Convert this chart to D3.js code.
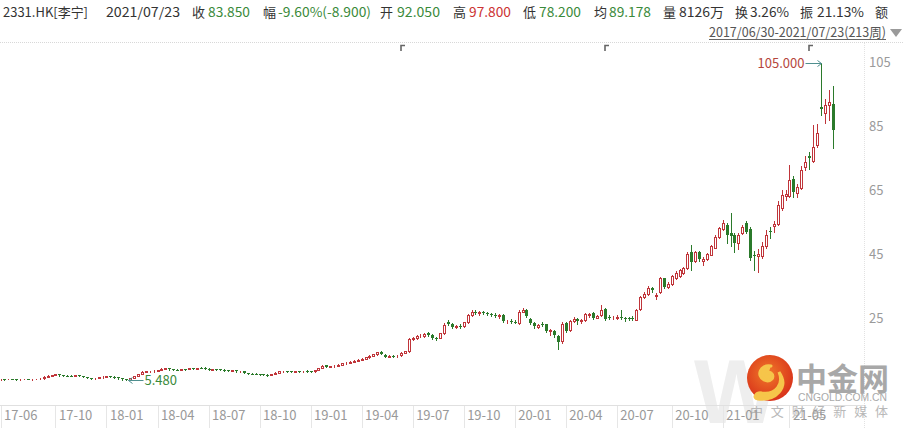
<!DOCTYPE html>
<html><head><meta charset="utf-8">
<script src="https://cdn.jsdelivr.net/npm/d3@7"></script>
<style>
body{margin:0;background:#fff;}
svg{display:block;font-family:"Noto Sans CJK SC","Noto Sans",sans-serif;}
</style>
</head><body>
<svg id="c" width="904" height="428"></svg>
<script>
// Weekly OHLC, 2017/06/30 .. 2021/07/23 (213 weeks)
const open = [5.80,5.85,5.80,5.90,5.85,5.78,5.82,5.88,5.80,5.85,5.92,6.05,6.60,6.95,7.10,7.30,7.10,6.95,6.90,6.80,
7.05,6.80,6.50,6.20,6.10,6.15,6.35,6.60,6.70,6.65,6.40,6.10,5.80,5.70,6.20,6.80,7.40,8.20,8.25,8.35,
8.50,8.70,9.15,9.30,8.90,8.80,8.75,8.95,8.95,9.30,9.05,9.35,9.30,9.10,8.85,8.95,8.90,8.80,8.75,8.50,
8.55,8.30,8.25,7.75,7.60,7.55,7.40,7.30,7.20,7.10,7.45,7.90,8.25,8.30,8.25,8.20,8.35,8.25,8.40,8.30,
8.25,8.60,9.40,10.20,9.60,9.85,10.10,10.40,10.75,11.05,11.20,11.65,11.85,12.30,12.75,13.20,13.60,14.30,13.50,12.90,
13.05,12.95,13.30,14.00,14.60,18.30,18.70,19.30,19.50,20.20,19.60,18.80,18.80,20.30,23.60,23.10,22.30,22.60,22.40,23.70,
25.90,27.00,26.60,26.80,26.50,26.30,25.90,25.60,25.90,24.00,24.20,23.80,23.50,27.00,27.50,24.80,23.40,22.30,23.00,23.00,
20.90,21.00,19.40,17.80,23.30,21.20,24.20,24.60,24.00,24.40,26.00,26.50,25.00,25.90,27.70,25.40,25.20,24.90,25.30,25.00,
24.90,25.10,24.50,27.80,31.60,32.60,34.30,32.00,33.00,37.40,34.60,35.80,37.60,38.20,39.00,40.80,45.80,42.90,45.60,43.00,
43.60,44.90,47.00,50.50,52.90,54.20,51.60,51.00,48.40,51.70,54.80,52.80,44.80,44.30,44.30,47.60,52.30,53.80,54.50,59.60,
63.20,63.30,68.60,64.30,65.80,72.40,75.80,74.20,79.30,91.30,89.40,91.90,92.05];
const high = [5.95,5.95,5.98,6.00,5.92,5.90,5.95,5.95,5.92,5.98,6.10,6.75,7.05,7.20,7.45,7.40,7.20,7.10,7.00,7.20,
7.10,6.85,6.60,6.30,6.25,6.40,6.70,6.80,6.85,6.70,6.45,6.20,5.90,6.30,6.90,7.40,8.40,8.40,8.50,8.60,
8.75,9.30,9.40,9.40,9.00,9.00,9.05,9.10,9.40,9.40,9.45,9.70,9.50,9.20,9.05,9.10,9.00,8.95,8.85,8.70,
8.60,8.50,8.30,7.85,7.75,7.70,7.50,7.45,7.35,7.50,8.00,8.35,8.45,8.45,8.40,8.45,8.50,8.50,8.55,8.45,
8.70,9.40,10.20,10.30,9.95,10.20,10.50,10.85,11.20,11.40,11.80,12.00,12.45,12.90,13.40,13.80,14.40,14.50,13.60,13.30,
13.30,13.40,14.20,14.80,18.60,19.00,19.60,19.90,20.40,20.60,19.90,19.20,20.40,23.30,24.30,23.50,22.90,23.20,23.90,26.20,
27.40,27.40,27.20,27.30,27.00,26.70,26.50,26.20,26.10,24.50,24.70,24.30,27.40,28.00,27.90,25.00,23.80,23.20,23.60,23.20,
21.60,21.30,19.80,23.60,23.80,24.40,25.30,24.90,24.80,26.60,26.70,26.80,25.90,29.00,28.00,25.80,25.70,25.80,27.50,25.40,
25.30,25.60,27.80,31.90,33.20,34.90,34.80,32.90,37.80,37.60,36.20,38.40,39.60,40.30,41.00,45.60,47.90,46.00,46.00,44.00,
45.40,48.00,50.90,53.60,55.80,54.80,57.80,51.50,51.50,54.00,55.50,53.50,46.00,46.60,48.90,52.50,53.50,55.30,61.80,65.00,
65.20,73.00,69.50,67.00,72.50,75.80,77.00,85.50,85.80,105.00,93.50,96.50,97.80];
const low = [5.70,5.72,5.75,5.78,5.72,5.70,5.75,5.76,5.72,5.78,5.85,6.00,6.50,6.80,7.00,6.95,6.85,6.75,6.70,6.75,
6.70,6.40,6.10,6.00,6.00,6.10,6.30,6.50,6.55,6.30,6.00,5.70,5.48,5.65,6.15,6.70,7.30,8.00,8.05,8.20,
8.30,8.60,9.00,8.80,8.65,8.60,8.70,8.80,8.90,9.00,9.00,9.20,9.00,8.75,8.70,8.60,8.55,8.50,8.40,8.35,
8.20,8.15,7.65,7.45,7.40,7.30,7.15,7.05,6.95,7.00,7.40,7.80,8.10,8.10,8.05,8.10,8.15,8.20,8.20,8.10,
8.20,8.55,9.30,9.50,9.50,9.75,10.00,10.30,10.60,10.90,11.10,11.40,11.75,12.20,12.60,13.00,13.50,13.60,12.70,12.70,
12.70,12.85,13.20,13.90,14.40,18.10,18.50,19.00,19.20,19.30,18.50,18.10,18.60,20.10,22.80,21.90,21.80,22.00,22.10,23.50,
25.50,26.10,26.00,26.20,25.80,25.60,25.30,25.10,23.70,23.50,23.30,23.30,23.20,26.80,25.20,23.20,22.00,21.90,22.40,20.60,
19.80,19.20,15.20,17.30,20.60,21.00,23.70,23.20,23.50,24.20,25.40,24.80,24.90,25.60,24.50,24.60,24.70,24.60,24.70,24.00,
24.30,24.50,24.30,27.50,31.40,32.30,33.10,31.00,32.80,34.40,34.30,35.50,37.30,38.00,38.80,40.50,40.00,42.60,43.00,41.50,
43.30,44.60,46.80,50.20,52.50,48.50,47.50,45.80,46.50,51.20,51.80,43.20,40.00,39.50,43.80,47.00,50.00,52.00,54.00,59.00,
62.00,62.80,63.00,63.00,65.50,71.50,71.80,73.80,78.50,88.50,86.00,87.10,78.20];
const close = [5.85,5.80,5.90,5.85,5.78,5.82,5.88,5.80,5.85,5.92,6.00,6.60,6.95,7.05,7.30,7.10,6.95,6.90,6.80,7.05,
6.80,6.50,6.20,6.10,6.15,6.35,6.60,6.70,6.65,6.40,6.10,5.80,5.65,6.20,6.80,7.30,8.20,8.25,8.35,8.50,
8.60,9.15,9.25,8.90,8.80,8.75,8.95,8.90,9.25,9.05,9.35,9.30,9.10,8.85,8.95,8.70,8.65,8.60,8.50,8.55,
8.30,8.35,7.75,7.60,7.55,7.40,7.30,7.20,7.10,7.40,7.90,8.25,8.30,8.25,8.20,8.35,8.25,8.40,8.30,8.25,
8.60,9.30,10.10,9.60,9.85,10.10,10.40,10.75,11.05,11.30,11.65,11.85,12.30,12.75,13.20,13.60,14.20,13.75,12.90,13.05,
12.95,13.20,14.00,14.60,18.30,18.70,19.30,19.50,20.10,19.60,18.80,18.70,20.20,22.90,23.20,22.30,22.60,22.40,23.60,25.90,
27.00,26.60,26.80,26.50,26.40,25.90,25.70,25.90,24.00,24.10,23.90,23.60,27.00,27.60,25.50,23.50,22.60,22.80,22.90,20.90,
21.20,19.60,17.60,23.20,21.00,24.10,24.60,24.00,24.30,26.40,26.20,25.00,25.50,27.50,24.70,25.20,25.30,25.40,25.00,24.60,
24.80,24.90,27.50,31.60,32.50,34.50,33.80,32.30,37.40,34.60,35.80,38.10,39.20,39.90,40.60,45.20,42.60,45.60,43.40,43.60,
45.00,47.50,50.50,53.20,54.90,51.00,50.80,48.60,51.10,53.60,52.10,43.70,44.40,45.00,47.50,51.10,51.90,54.50,60.30,63.60,
63.80,68.20,64.40,66.00,71.40,74.00,75.20,78.50,82.90,90.60,91.80,92.75,83.85];

const xTickLabels = ["17-06","17-10","18-01","18-04","18-07","18-10","19-01","19-04","19-07","19-10","20-01","20-04","20-07","20-10","21-01","21-05"];
const xTickWeeks  = [0,14,27,40,53,66,79,92,105,118,131,144,157,171,184,201];
const yTicks = [25,45,65,85,105];
const markerWeeks = [102,154,206];

const headerItems = [
  ["2331.HK[李宁]",3,88,"k"],["2021/07/23",106,180,"k"],["收",192,0,"k"],["83.850",208,250,"g"],
  ["幅",263,0,"k"],["-9.60%(-8.900)",278,371,"g"],["开",380,0,"k"],["92.050",397,440,"g"],
  ["高",453,0,"k"],["97.800",469,511,"r"],["低",523,0,"k"],["78.200",539,581,"g"],
  ["均",594,0,"k"],["89.178",609,651,"g"],["量",663,0,"k"],["8126万",679,724,"k"],
  ["换",735,0,"k"],["3.26%",750,789,"k"],["振",800,0,"k"],["21.13%",817,864,"k"],["额",875,0,"k"]
];
const rangeText = "2017/06/30-2021/07/23(213周)";

const RED = "#c0353a", GREEN = "#2b7a2b", TXT = "#333";
const colorOf = {k: TXT, g: "#3a8a3a", r: "#cc3333"};

const svg = d3.select("#c");
const x = d3.scaleLinear().domain([0, 212]).range([0.5, 832.6]);
const y = d3.scaleLinear().domain([25, 105]).range([318, 62.8]);

// frame lines
svg.append("line").attr("x1",0).attr("x2",904).attr("y1",42.5).attr("y2",42.5)
  .attr("stroke","#d8d8d8").attr("stroke-dasharray","1,1");
svg.append("line").attr("x1",864.5).attr("x2",864.5).attr("y1",43).attr("y2",428)
  .attr("stroke","#e2e2e2").attr("stroke-dasharray","1,1");

// watermark
const wm = svg.append("g");
wm.append("text").attr("x",694).attr("y",423).attr("font-family","Liberation Sans, Arial, sans-serif")
  .attr("font-size",90).attr("font-weight","bold").attr("fill","#eeeeee").text("W");
const grad = svg.append("defs").append("radialGradient").attr("id","lg").attr("cx","45%").attr("cy","40%").attr("r","60%");
grad.append("stop").attr("offset","0%").attr("stop-color","#f07a2a");
grad.append("stop").attr("offset","100%").attr("stop-color","#d9331a");
wm.append("circle").attr("cx",770).attr("cy",378).attr("r",23).attr("fill","url(#lg)");
wm.append("path").attr("d","M771,366 C760,364 756,376 764,380 C770,383 776,377 771,373 C768,371 765,375 767,377 M779,372 C784,384 776,395 762,393 C756,392 752,398 758,399 C775,401 790,388 779,372 Z")
  .attr("fill","#f6c54a").attr("stroke","#f6c54a").attr("stroke-width",3).attr("stroke-linecap","round");
wm.append("text").attr("x",796).attr("y",390).attr("font-size",31).attr("font-weight","bold")
  .attr("fill","#a8a8a8").text("中金网");
wm.append("text").attr("x",798).attr("y",401).attr("font-size",11).attr("font-family","Liberation Sans, Arial, sans-serif")
  .attr("fill","#aaaaaa").attr("textLength",89).attr("lengthAdjust","spacingAndGlyphs").text("CNGOLD.COM.CN");
wm.append("text").attr("x",750).attr("y",416).attr("font-size",13)
  .attr("fill","#b8b8b8").attr("textLength",138).attr("lengthAdjust","spacing").text("中文财经新媒体");

// x axis
const xAxis = svg.append("g").attr("transform","translate(0,405.5)")
  .call(d3.axisBottom(x).tickValues(xTickWeeks).tickFormat((d,i)=>xTickLabels[i]).tickSize(23).tickSizeOuter(0));
xAxis.select(".domain").attr("stroke","#e0e0e0").attr("d","M0,0H864");
xAxis.selectAll(".tick line").attr("stroke","#e6e6e6").attr("shape-rendering","crispEdges");
xAxis.selectAll(".tick text").attr("text-anchor","start").attr("x",3).attr("y",5).attr("dy","0.71em")
  .attr("fill","#999").attr("font-size",13).attr("font-family","Noto Sans CJK SC, sans-serif");

// y axis
const yAxis = svg.append("g").attr("transform","translate(866,0)")
  .call(d3.axisRight(y).tickValues(yTicks).tickSize(0).tickPadding(3));
yAxis.select(".domain").remove();
yAxis.selectAll(".tick text").attr("fill","#9a9a9a").attr("font-size",13).attr("font-family","Noto Sans CJK SC, sans-serif");

// candles
const idx = d3.range(close.length);
const up = i => close[i] >= open[i];
const cg = svg.append("g").attr("shape-rendering","crispEdges");
cg.selectAll("line").data(idx).join("line")
  .attr("x1", i => Math.round(x(i)) + 0.5).attr("x2", i => Math.round(x(i)) + 0.5)
  .attr("y1", i => Math.round(y(high[i]))).attr("y2", i => Math.round(y(low[i])) + 1)
  .attr("stroke", i => up(i) ? RED : GREEN);
cg.selectAll("rect").data(idx).join("rect")
  .attr("x", i => up(i) ? Math.round(x(i)) - 0.5 : Math.round(x(i)) - 1)
  .attr("width", i => up(i) ? 2 : 3)
  .attr("y", i => { const t = Math.round(y(Math.max(open[i], close[i]))); return up(i) ? t + 0.5 : t; })
  .attr("height", i => {
    const t = Math.round(y(Math.max(open[i], close[i]))), b = Math.round(y(Math.min(open[i], close[i])));
    return up(i) ? Math.max(0, b - t) : Math.max(1, b - t);
  })
  .attr("fill", i => up(i) ? "#fff" : GREEN)
  .attr("stroke", i => up(i) ? RED : "none");

// max / min annotations
const ARROW = "#4f8f8f";
const iMax = d3.maxIndex(high), iMin = d3.minIndex(low);
const mx = Math.round(x(iMax)) + 0.5, my = Math.round(y(high[iMax])) + 0.5;
svg.append("line").attr("x1", mx - 16).attr("x2", mx).attr("y1", my).attr("y2", my).attr("stroke", ARROW);
svg.append("path").attr("d", `M${mx-4},${my-3}L${mx},${my}L${mx-4},${my+3}`).attr("fill","none").attr("stroke",ARROW);
svg.append("text").attr("x", mx - 17).attr("y", my).attr("dy","0.35em").attr("text-anchor","end")
  .attr("font-size",13).attr("fill","#b5463c").text(high[iMax].toFixed(3));
const nx = Math.round(x(iMin)) + 2.5, ny = Math.round(y(low[iMin])) + 0.5;
svg.append("line").attr("x1", nx).attr("x2", nx + 15).attr("y1", ny).attr("y2", ny).attr("stroke", ARROW);
svg.append("path").attr("d", `M${nx+4},${ny-3}L${nx},${ny}L${nx+4},${ny+3}`).attr("fill","none").attr("stroke",ARROW);
svg.append("text").attr("x", nx + 16).attr("y", ny).attr("dy","0.38em").attr("text-anchor","start")
  .attr("font-size",13).attr("fill","#3a8a3a").text(low[iMin].toFixed(3));

// event markers at top
svg.append("g").selectAll("path").data(markerWeeks).join("path")
  .attr("d", d => { const px = Math.round(x(d)); return `M${px},51V45.5H${px+4}`; })
  .attr("fill","none").attr("stroke","#666").attr("stroke-width",1.6);

// header
const hg = svg.append("g").attr("font-size",13);
headerItems.forEach(([t,x0,x1,c]) => {
  const el = hg.append("text").attr("x",x0).attr("y",17).attr("fill",colorOf[c]).text(t);
  if (x1 > 0) el.attr("textLength", x1 - x0).attr("lengthAdjust","spacingAndGlyphs");
});
hg.append("text").attr("x",709).attr("y",37).attr("fill","#555").attr("textLength",177)
  .attr("lengthAdjust","spacingAndGlyphs").text(rangeText);
hg.append("line").attr("x1",709).attr("x2",886).attr("y1",39.5).attr("y2",39.5).attr("stroke","#666");
hg.append("path").attr("d","M890,29H902L896,37Z").attr("fill","#9a9a9a");
</script>
</body></html>
